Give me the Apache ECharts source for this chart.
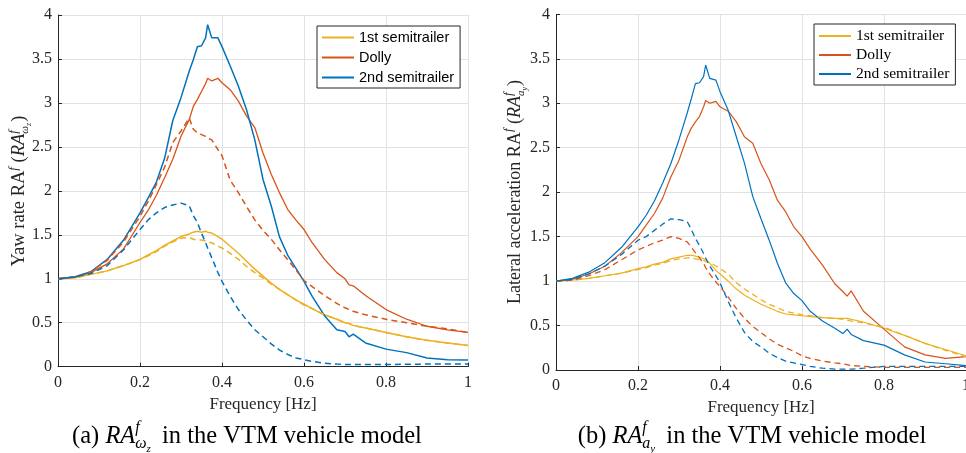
<!DOCTYPE html>
<html>
<head>
<meta charset="utf-8">
<script src="https://cdn.jsdelivr.net/npm/echarts@6/dist/echarts.min.js"></script>
<style>
  html, body { margin: 0; padding: 0; background: #ffffff; }
  #chart { width: 966px; height: 453px; }
</style>
</head>
<body>
<div id="chart"></div>
<script>
// Frequency sample points shared by every curve [Hz]
const FREQ = [0, 0.04, 0.08, 0.12, 0.16, 0.2, 0.22, 0.24, 0.26, 0.28, 0.3, 0.32, 0.33, 0.34, 0.35, 0.36, 0.365, 0.375, 0.39, 0.4,
  0.42, 0.44, 0.46, 0.48, 0.5, 0.52, 0.54, 0.56, 0.58, 0.6, 0.62, 0.65, 0.68, 0.7, 0.71, 0.72, 0.75, 0.8, 0.85, 0.9, 0.95, 1.0];

const UNIT_NAMES = ['1st semitrailer', 'Dolly', '2nd semitrailer'];
const X_TICKS = { min: 0, max: 1, step: 0.2 };
const Y_TICKS = { min: 0, max: 4, step: 0.5 };

// (a) yaw-rate amplification, solid and dashed variants
const yawSemi1 = [1.00,1.01,1.05,1.09,1.15,1.22,1.27,1.32,1.38,1.43,1.48,1.51,1.53,1.54,1.53,1.54,1.53,1.52,1.48,1.45,
  1.37,1.29,1.20,1.11,1.03,0.95,0.88,0.82,0.76,0.71,0.66,0.59,0.54,0.50,0.49,0.47,0.44,0.39,0.34,0.30,0.27,0.24];
const yawSemi1Dash = [1.00,1.01,1.05,1.09,1.15,1.22,1.26,1.31,1.37,1.42,1.46,1.47,1.45,1.44,1.44,1.43,1.42,1.41,1.37,1.35,
  1.29,1.22,1.14,1.07,1.01,0.94,0.88,0.82,0.76,0.70,0.66,0.59,0.54,0.50,0.49,0.47,0.44,0.39,0.34,0.30,0.27,0.24];
const yawDolly = [1.00,1.02,1.07,1.17,1.34,1.64,1.78,1.95,2.15,2.36,2.62,2.81,2.96,3.04,3.13,3.22,3.28,3.25,3.28,3.23,
  3.15,3.02,2.85,2.72,2.43,2.19,1.98,1.79,1.67,1.56,1.41,1.22,1.07,1.00,0.93,0.92,0.81,0.65,0.54,0.46,0.42,0.39];
const yawDollyDash = [1.00,1.02,1.08,1.21,1.42,1.71,1.88,2.07,2.27,2.55,2.68,2.83,2.70,2.66,2.64,2.62,2.60,2.58,2.47,2.40,
  2.12,1.98,1.82,1.67,1.55,1.45,1.33,1.22,1.10,0.98,0.91,0.81,0.72,0.67,0.65,0.63,0.59,0.54,0.50,0.46,0.43,0.39];
const yawSemi2 = [1.00,1.02,1.08,1.22,1.44,1.75,1.92,2.10,2.37,2.80,3.06,3.36,3.49,3.64,3.65,3.74,3.89,3.74,3.74,3.64,
  3.42,3.19,2.92,2.58,2.13,1.83,1.48,1.27,1.12,0.97,0.80,0.58,0.42,0.40,0.34,0.37,0.27,0.20,0.16,0.10,0.08,0.075];
const yawSemi2Dash = [1.00,1.02,1.06,1.15,1.33,1.56,1.67,1.75,1.81,1.84,1.86,1.83,1.72,1.64,1.52,1.41,1.35,1.24,1.07,0.97,
  0.80,0.65,0.53,0.42,0.34,0.26,0.19,0.14,0.10,0.08,0.06,0.04,0.03,0.025,0.025,0.025,0.025,0.025,0.027,0.03,0.03,0.03];

// (b) lateral-acceleration amplification, solid and dashed variants
const aySemi1 = [1.00,1.01,1.03,1.06,1.09,1.14,1.16,1.19,1.21,1.25,1.27,1.29,1.29,1.28,1.27,1.25,1.24,1.20,1.12,1.08,
  1.00,0.91,0.84,0.79,0.74,0.70,0.66,0.63,0.62,0.61,0.60,0.59,0.58,0.58,0.58,0.57,0.54,0.47,0.39,0.30,0.23,0.16];
const aySemi1Dash = [1.00,1.01,1.03,1.06,1.09,1.13,1.15,1.18,1.20,1.23,1.25,1.26,1.26,1.25,1.24,1.23,1.22,1.21,1.17,1.14,
  1.08,0.98,0.91,0.85,0.79,0.74,0.70,0.66,0.64,0.62,0.61,0.59,0.58,0.57,0.56,0.55,0.53,0.48,0.39,0.30,0.22,0.15];
const ayDolly = [1.00,1.02,1.08,1.17,1.32,1.50,1.63,1.76,1.93,2.17,2.36,2.62,2.72,2.79,2.85,2.96,3.03,3.00,3.02,2.96,
  2.91,2.79,2.62,2.55,2.32,2.14,1.91,1.78,1.61,1.50,1.36,1.18,0.97,0.88,0.83,0.89,0.66,0.46,0.26,0.17,0.13,0.15];
const ayDollyDash = [1.00,1.01,1.06,1.13,1.24,1.35,1.39,1.43,1.46,1.50,1.48,1.44,1.38,1.32,1.26,1.20,1.15,1.08,0.99,0.94,
  0.82,0.69,0.58,0.49,0.42,0.35,0.29,0.25,0.21,0.16,0.13,0.10,0.08,0.07,0.06,0.05,0.04,0.03,0.03,0.03,0.03,0.03];
const aySemi2 = [1.00,1.03,1.10,1.21,1.38,1.61,1.74,1.90,2.10,2.32,2.59,2.89,3.05,3.22,3.23,3.30,3.43,3.28,3.26,3.13,
  2.92,2.62,2.32,1.95,1.70,1.46,1.20,0.98,0.86,0.78,0.66,0.55,0.47,0.41,0.46,0.40,0.33,0.28,0.17,0.09,0.07,0.05];
const aySemi2Dash = [1.00,1.02,1.08,1.17,1.30,1.46,1.50,1.57,1.64,1.70,1.69,1.67,1.58,1.48,1.40,1.31,1.26,1.17,1.06,0.98,
  0.77,0.58,0.42,0.32,0.26,0.19,0.14,0.10,0.08,0.06,0.04,0.02,0.01,0.01,0.01,0.01,0.02,0.04,0.04,0.04,0.04,0.04];

const COLORS = ['#EDB120', '#D95319', '#0072BD'];
const INK = '#262626';
const SERIF = '"Liberation Serif", "Times New Roman", serif';
const SANS = '"Liberation Sans", Arial, sans-serif';

const chart = echarts.init(document.getElementById('chart'), null, { renderer: 'canvas' });

function curve(name, colorIdx, vals, panel, dashed, width) {
  return {
    type: 'line', name: name,
    xAxisIndex: panel, yAxisIndex: panel,
    data: FREQ.map((f, i) => [f, vals[i]]),
    symbol: 'none', showSymbol: false, smooth: false, silent: true,
    lineStyle: { color: COLORS[colorIdx], width: width, type: dashed ? [6, 4] : 'solid' },
    itemStyle: { color: COLORS[colorIdx] },
    emphasis: { disabled: true },
    animation: false
  };
}

function xAxisFor(panel) {
  return {
    gridIndex: panel, type: 'value', min: X_TICKS.min, max: X_TICKS.max, interval: X_TICKS.step,
    axisLine: { show: true, onZero: false, lineStyle: { color: INK, width: 1 } },
    axisTick: { show: true, inside: true, length: 4, lineStyle: { color: INK } },
    axisLabel: { color: INK, fontFamily: SERIF, fontSize: 16, margin: 8 },
    splitLine: { show: true, lineStyle: { color: '#e2e2e2', width: 1 } },
    name: 'Frequency [Hz]', nameLocation: 'middle', nameGap: 28,
    nameTextStyle: { color: INK, fontFamily: SERIF, fontSize: 17 }
  };
}
function yAxisFor(panel) {
  return {
    gridIndex: panel, type: 'value', min: Y_TICKS.min, max: Y_TICKS.max, interval: Y_TICKS.step,
    axisLine: { show: true, onZero: false, lineStyle: { color: INK, width: 1 } },
    axisTick: { show: true, inside: true, length: 4, lineStyle: { color: INK } },
    axisLabel: { color: INK, fontFamily: SERIF, fontSize: 16, margin: 6 },
    splitLine: { show: true, lineStyle: { color: '#e2e2e2', width: 1 } }
  };
}

// Inline math-like label: runs of text with size, italics, baseline shift.
// A run marked "back" starts where the previous run started (stacked super/subscript).
const measure = document.createElement('canvas').getContext('2d');
function runWidth(r) {
  measure.font = (r.i ? 'italic ' : '') + r.s + 'px ' + SERIF;
  return measure.measureText(r.t).width;
}
function mathLabel(runs, cx, cy, rotation, color, mainSize) {
  let x = 0, prevW = 0;
  const placed = [];
  runs.forEach(r => {
    const w = runWidth(r);
    if (r.back) x -= prevW;
    x += (r.pad || 0);
    placed.push({ r: r, x: x });
    x += w; prevW = w;
  });
  const total = x;
  const base = 0.33 * mainSize;
  return {
    type: 'group', x: cx, y: cy, rotation: rotation, silent: true,
    children: placed.map(p => ({
      type: 'text',
      x: p.x - total / 2,
      y: base - (p.r.dy || 0) - 0.3 * p.r.s,
      style: {
        text: p.r.t, fill: color, fontFamily: SERIF, fontSize: p.r.s,
        fontStyle: p.r.i ? 'italic' : 'normal', align: 'left', verticalAlign: 'middle'
      }
    }))
  };
}

const yawLabel = [
  { t: 'Yaw rate RA', s: 18.5 }, { t: 'f', s: 13, i: true, dy: 8 },
  { t: ' (', s: 18.5 }, { t: 'RA', s: 18.5, i: true }, { t: 'f', s: 13, i: true, dy: 8 },
  { t: 'ω', s: 11, i: true, dy: -3, back: true }, { t: 'z', s: 8, i: true, dy: -6 },
  { t: ')', s: 18.5, pad: 1 }
];
const ayLabel = [
  { t: 'Lateral acceleration RA', s: 18 }, { t: 'f', s: 13, i: true, dy: 8 },
  { t: ' (', s: 18 }, { t: 'RA', s: 18, i: true }, { t: 'f', s: 13, i: true, dy: 8 },
  { t: 'a', s: 11, i: true, dy: -3, back: true }, { t: 'y', s: 8, i: true, dy: -6 },
  { t: ')', s: 18, pad: 1 }
];
const capA = [
  { t: '(a) ', s: 24.5 }, { t: 'RA', s: 24.5, i: true }, { t: 'f', s: 16, i: true, dy: 11 },
  { t: 'ω', s: 16, i: true, dy: -5, back: true }, { t: 'z', s: 11, i: true, dy: -8 },
  { t: ' in the VTM vehicle model', s: 24.5, pad: 5 }
];
const capB = [
  { t: '(b) ', s: 24.5 }, { t: 'RA', s: 24.5, i: true }, { t: 'f', s: 16, i: true, dy: 11 },
  { t: 'a', s: 16, i: true, dy: -5, back: true }, { t: 'y', s: 11, i: true, dy: -8 },
  { t: ' in the VTM vehicle model', s: 24.5, pad: 5 }
];

function legendFor(left, top, font, size, gap, padding) {
  return {
    orient: 'vertical', left: left, top: top,
    padding: padding, itemWidth: 32, itemHeight: 2, itemGap: gap,
    icon: 'rect',
    borderColor: INK, borderWidth: 1, backgroundColor: '#ffffff',
    textStyle: { fontFamily: font, fontSize: size, color: '#000000' },
    data: UNIT_NAMES, selectedMode: false
  };
}

const option = {
  animation: false,
  backgroundColor: '#ffffff',
  grid: [
    { left: 58, top: 15, width: 410, height: 351.7, containLabel: false, outerBoundsMode: 'none' },
    { left: 556, top: 14.3, width: 410, height: 355.7, containLabel: false, outerBoundsMode: 'none' }
  ],
  xAxis: [xAxisFor(0), xAxisFor(1)],
  yAxis: [yAxisFor(0), yAxisFor(1)],
  legend: [
    legendFor(317, 26, SANS, 14.5, 5, [4, 6, 3, 5]),
    legendFor(814, 24, SERIF, 15.5, 3, [4, 6, 3, 5])
  ],
  series: [
    curve(UNIT_NAMES[0], 0, yawSemi1, 0, false, 1.5),
    curve(UNIT_NAMES[1], 1, yawDolly, 0, false, 1.3),
    curve(UNIT_NAMES[2], 2, yawSemi2, 0, false, 1.5),
    curve(UNIT_NAMES[0], 0, yawSemi1Dash, 0, true, 1.5),
    curve(UNIT_NAMES[1], 1, yawDollyDash, 0, true, 1.5),
    curve(UNIT_NAMES[2], 2, yawSemi2Dash, 0, true, 1.5),
    curve(UNIT_NAMES[0], 0, aySemi1, 1, false, 1.2),
    curve(UNIT_NAMES[1], 1, ayDolly, 1, false, 1.2),
    curve(UNIT_NAMES[2], 2, aySemi2, 1, false, 1.2),
    curve(UNIT_NAMES[0], 0, aySemi1Dash, 1, true, 1.3),
    curve(UNIT_NAMES[1], 1, ayDollyDash, 1, true, 1.3),
    curve(UNIT_NAMES[2], 2, aySemi2Dash, 1, true, 1.3)
  ],
  graphic: [
    mathLabel(yawLabel, 19, 191, Math.PI / 2, INK, 18.5),
    mathLabel(ayLabel, 515, 192, Math.PI / 2, INK, 18),
    mathLabel(capA, 247, 436, 0, '#000000', 24.5),
    mathLabel(capB, 752, 436, 0, '#000000', 24.5)
  ]
};

chart.setOption(option);
</script>
</body>
</html>
